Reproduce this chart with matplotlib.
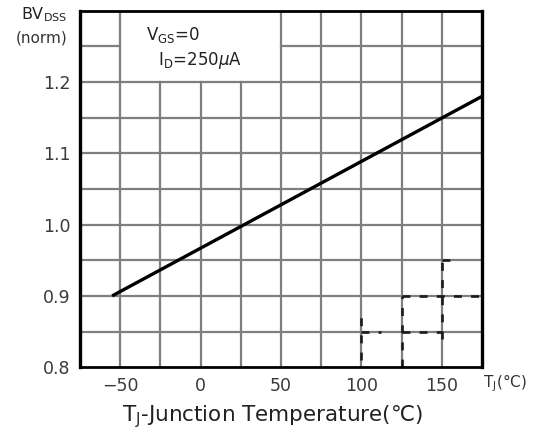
import numpy as np
import matplotlib.pyplot as plt

# normalized breakdown voltage vs junction temperature
tj = [-55, 175]
bv_norm = [0.90, 1.18]

xticks = [-50, 0, 50, 100, 150]
yticks = [0.8, 0.9, 1.0, 1.1, 1.2]
xgrid = np.arange(-50, 151, 25)
ygrid = np.arange(0.85, 1.251, 0.05)

# blank area kept for the test condition note
note_x = (-50, 50)
note_y = (1.2, 1.3)

# faint dashed traces near the bottom right
ghost_segs = [
    ([100, 100], [0.81, 0.875]),
    ([100, 112], [0.85, 0.85]),
    ([125, 125], [0.80, 0.90]),
    ([125, 150], [0.85, 0.85]),
    ([125, 175], [0.90, 0.90]),
    ([150, 150], [0.84, 0.95]),
    ([150, 158], [0.95, 0.95]),
]

fig = plt.figure(figsize=(5.44, 4.34), dpi=100)
ax = fig.add_axes([0.147, 0.154, 0.739, 0.821])
ax.set_xlim(-75, 175)
ax.set_ylim(0.8, 1.3)

gc = '#7f7f7f'
glw = 1.6
for x in xgrid:
    top = note_y[0] if note_x[0] < x < note_x[1] else 1.3
    ax.plot([x, x], [0.8, top], color=gc, lw=glw, zorder=1)
for y in ygrid:
    if y > note_y[0] + 1e-9:
        ax.plot([-75, note_x[0]], [y, y], color=gc, lw=glw, zorder=1)
        ax.plot([note_x[1], 175], [y, y], color=gc, lw=glw, zorder=1)
    else:
        ax.plot([-75, 175], [y, y], color=gc, lw=glw, zorder=1)

for xs, ys in ghost_segs:
    ax.plot(xs, ys, color='#1a1a1a', lw=1.9, ls=(0, (3, 3.5)), zorder=3)

ax.plot(tj, bv_norm, color='black', lw=2.4, zorder=4, solid_capstyle='butt')

for s in ax.spines.values():
    s.set_color('black')
    s.set_linewidth(2.0)
    s.set_zorder(5)
ax.spines['left'].set_linewidth(2.4)
ax.spines['right'].set_linewidth(2.4)

ax.set_xticks(xticks)
ax.set_xticklabels(['\u221250', '0', '50', '100', '150'])
ax.set_yticks(yticks)
ax.set_yticklabels(['0.8', '0.9', '1.0', '1.1', '1.2'])
ax.tick_params(length=0, labelsize=12.5, labelcolor='#3a3a3a', pad=7)

ax.text(-34, 1.266, r'V$_{\rm GS}$=0', fontsize=12, color='#222222', va='center')
ax.text(-26.5, 1.231, r'I$_{\rm D}$=250$\mu$A', fontsize=12, color='#222222', va='center')

fig.text(0.081, 0.966, r'BV$_{\rm DSS}$', fontsize=11.5, color='#222222', ha='center', va='center')
fig.text(0.076, 0.912, '(norm)', fontsize=11, color='#333333', ha='center', va='center')
fig.text(0.928, 0.117, r'T$_{\rm J}$(°C)', fontsize=11, color='#333333', ha='center', va='center')
fig.text(0.5, 0.039, r'T$_{\rm J}$-Junction Temperature(℃)', fontsize=15.5, color='#222222',
         ha='center', va='center')

fig.savefig('out.png', dpi=100)
